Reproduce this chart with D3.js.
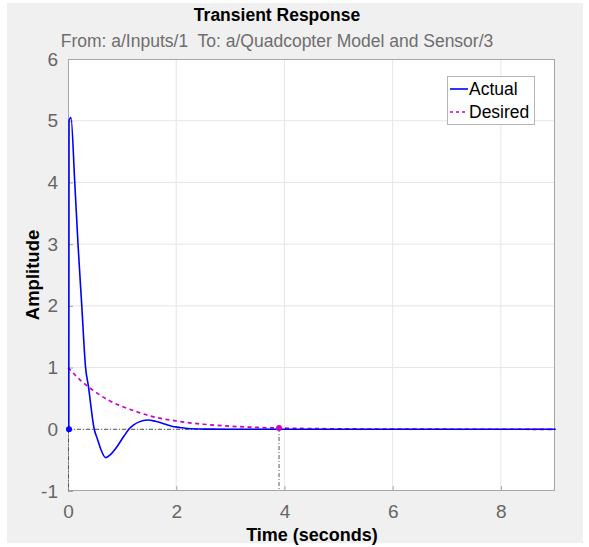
<!DOCTYPE html>
<html>
<head>
<meta charset="utf-8">
<script src="https://cdn.jsdelivr.net/npm/d3@7"></script>
<style>
  html, body { margin: 0; padding: 0; background: #ffffff; }
  svg { display: block; }
  text { font-family: "Liberation Sans", Arial, Helvetica, sans-serif; }
</style>
</head>
<body>
<svg id="chart" width="589" height="547"></svg>
<script>
// Time axis ticks and amplitude ticks
const xTicks = [0, 2, 4, 6, 8];
const yTicks = [-1, 0, 1, 2, 3, 4, 5, 6];

// Actual response samples (time in seconds, amplitude)
const actualTime = [0, 0.004, 0.04, 0.11, 0.17, 0.24, 0.31, 0.36, 0.47, 0.53, 0.59, 0.68, 0.77, 0.9, 1.02, 1.11, 1.2, 1.3, 1.46, 1.6, 1.75, 1.9, 2.05, 2.2, 2.5, 3.0, 4.0, 6.0, 9.0];
const actualValue = [0, 5.0, 5.05, 4.0, 3.0, 2.0, 1.0, 0.71, 0, -0.16, -0.32, -0.46, -0.41, -0.27, -0.11, 0, 0.07, 0.12, 0.15, 0.13, 0.09, 0.05, 0.03, 0.012, 0.003, 0, 0, 0, 0];

// Desired response samples
const desiredTime = [0, 0.25, 0.5, 0.75, 1.0, 1.25, 1.5, 1.75, 2.0, 2.25, 2.5, 2.75, 3.0, 3.5, 4.0, 4.5, 5.0, 6.0, 7.0, 8.0, 9.0];
const desiredValue = [1.0, 0.78, 0.61, 0.47, 0.37, 0.29, 0.22, 0.17, 0.135, 0.105, 0.082, 0.064, 0.05, 0.03, 0.018, 0.011, 0.007, 0.0025, 0.001, 0.0003, 0.0001];

// Characteristic markers: peak of actual at t=0 and settling of desired
const peakMarker = { t: 0, v: 0 };
const settleMarker = { t: 3.9, v: 0.02 };
const steadyState = 0;

const legendLabels = ["Actual", "Desired"];

const svg = d3.select("#chart");

// Figure background
const fig = svg.append("g");
fig.append("rect").attr("x", 7).attr("y", 3).attr("width", 576).attr("height", 540).attr("fill", "#f0f0f0");

const plot = { left: 68, right: 555, top: 59, bottom: 491 };

const x = d3.scaleLinear().domain([0, 9]).range([plot.left, plot.right]);
const y = d3.scaleLinear().domain([-1, 6]).range([plot.bottom, plot.top]);

// Axes area
fig.append("rect")
  .attr("x", plot.left).attr("y", plot.top)
  .attr("width", plot.right - plot.left).attr("height", plot.bottom - plot.top)
  .attr("fill", "#ffffff");

// Grid
const grid = fig.append("g");
grid.selectAll("line.gx").data(xTicks.filter(d => d > 0)).enter().append("line")
  .attr("x1", d => x(d)).attr("x2", d => x(d))
  .attr("y1", plot.top).attr("y2", plot.bottom)
  .attr("stroke", "#e6e6e6").attr("stroke-width", 1);
grid.selectAll("line.gy").data(yTicks.filter(d => d > -1 && d < 6)).enter().append("line")
  .attr("x1", plot.left).attr("x2", plot.right)
  .attr("y1", d => y(d)).attr("y2", d => y(d))
  .attr("stroke", "#e6e6e6").attr("stroke-width", 1);

// Axis box
fig.append("rect")
  .attr("x", plot.left + 0.5).attr("y", plot.top + 0.5)
  .attr("width", plot.right - plot.left - 1).attr("height", plot.bottom - plot.top - 1)
  .attr("fill", "none").attr("stroke", "#a6a6a6").attr("stroke-width", 1);

// Axes with inward ticks
const fmt = d => String(d);
const xAxis = d3.axisBottom(x).tickValues(xTicks).tickSizeInner(-5).tickSizeOuter(0).tickPadding(14).tickFormat(fmt);
const gx = fig.append("g").attr("transform", `translate(0,${plot.bottom})`).call(xAxis);
gx.select(".domain").remove();
gx.selectAll("line").attr("stroke", "#a6a6a6");
gx.selectAll("text").attr("fill", "#666666").attr("font-size", 19);

const yAxis = d3.axisLeft(y).tickValues(yTicks).tickSizeInner(-5).tickSizeOuter(0).tickPadding(10).tickFormat(fmt);
const gy = fig.append("g").attr("transform", `translate(${plot.left},0)`).call(yAxis);
gy.select(".domain").remove();
gy.selectAll("line").attr("stroke", "#a6a6a6");
gy.selectAll("text").attr("fill", "#666666").attr("font-size", 19);

// Characteristic lines (dash-dot)
const markerLines = fig.append("g").attr("stroke", "#555").attr("stroke-width", 1).attr("stroke-dasharray", "4,2,1,2").attr("fill", "none");
markerLines.append("line").attr("x1", x(0)).attr("x2", x(9)).attr("y1", y(steadyState)).attr("y2", y(steadyState));
markerLines.append("line").attr("x1", x(peakMarker.t) + 0.5).attr("x2", x(peakMarker.t) + 0.5).attr("y1", y(peakMarker.v)).attr("y2", y(-1));
markerLines.append("line").attr("x1", x(settleMarker.t)).attr("x2", x(settleMarker.t)).attr("y1", y(settleMarker.v)).attr("y2", y(-1));

// Curves
const line = d3.line().curve(d3.curveMonotoneX).x(d => x(d[0])).y(d => y(d[1]));
const actualPts = actualTime.map((t, i) => [t, actualValue[i]]);
const desiredPts = desiredTime.map((t, i) => [t, desiredValue[i]]);

fig.append("path").attr("d", line(desiredPts))
  .attr("fill", "none").attr("stroke", "#cc00cc").attr("stroke-width", 1.7)
  .attr("stroke-dasharray", "4,3.5");

fig.append("path").attr("d", line(actualPts))
  .attr("fill", "none").attr("stroke", "#0000ff").attr("stroke-width", 1.6)
  .attr("transform", "translate(0.8,0)");

// Marker dots
fig.append("circle").attr("cx", x(peakMarker.t) + 1).attr("cy", y(peakMarker.v)).attr("r", 3).attr("fill", "#0000ff");
fig.append("circle").attr("cx", x(settleMarker.t)).attr("cy", y(settleMarker.v)).attr("r", 3).attr("fill", "#cc00cc");

// Titles
fig.append("text").attr("x", 277).attr("y", 21).attr("text-anchor", "middle")
  .attr("font-size", 17.5).attr("font-weight", "bold").attr("fill", "#000")
  .text("Transient Response");
fig.append("text").attr("x", 277).attr("y", 47).attr("text-anchor", "middle")
  .attr("font-size", 17.5).attr("fill", "#6e6e6e")
  .attr("xml:space", "preserve").style("white-space", "pre")
  .text("From: a/Inputs/1  To: a/Quadcopter Model and Sensor/3");
fig.append("text").attr("x", 312).attr("y", 541).attr("text-anchor", "middle")
  .attr("font-size", 18).attr("font-weight", "bold").attr("fill", "#000")
  .text("Time (seconds)");
fig.append("text").attr("transform", "translate(39,275) rotate(-90)").attr("text-anchor", "middle")
  .attr("font-size", 18.5).attr("font-weight", "bold").attr("fill", "#000")
  .text("Amplitude");

// Legend
const lg = fig.append("g").attr("transform", "translate(447,76)");
lg.append("rect").attr("x", 0.5).attr("y", 0.5).attr("width", 87).attr("height", 48)
  .attr("fill", "#ffffff").attr("stroke", "#b5b5b5");
const legendStyles = [
  { stroke: "#0000ff", dash: null },
  { stroke: "#cc00cc", dash: "3,3" }
];
legendLabels.forEach((lab, i) => {
  const cy = 13 + i * 23;
  lg.append("line").attr("x1", 3).attr("x2", 21).attr("y1", cy).attr("y2", cy)
    .attr("stroke", legendStyles[i].stroke).attr("stroke-width", 1.6)
    .attr("stroke-dasharray", legendStyles[i].dash);
  lg.append("text").attr("x", 22).attr("y", cy + 6)
    .attr("font-size", 17.5).attr("fill", "#000").text(lab);
});
</script>
</body>
</html>
